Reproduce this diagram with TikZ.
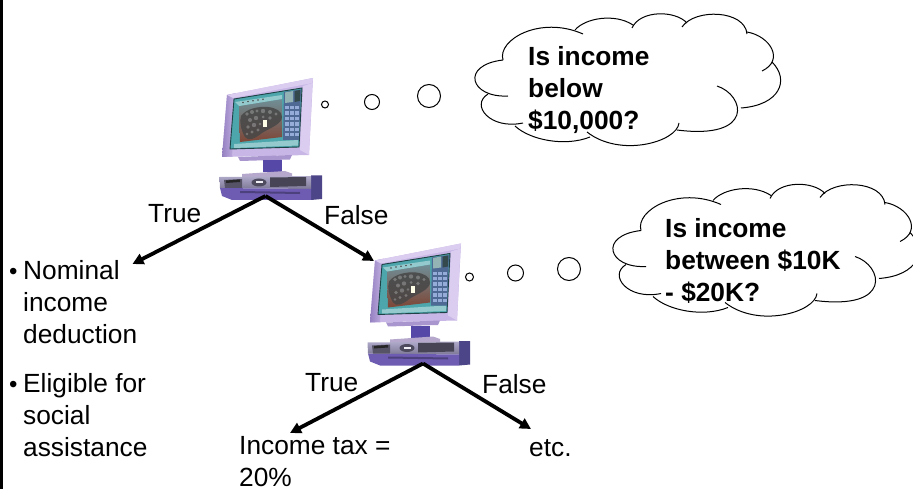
\documentclass[tikz,border=0pt]{standalone}
\usepackage{fontspec}
\setmainfont{Liberation Sans}
\usetikzlibrary{arrows.meta}
\definecolor{bezel}{HTML}{C8B6E6}
\definecolor{bezeld}{HTML}{9480C0}
\definecolor{bezell}{HTML}{DACDF0}
\definecolor{neckc}{HTML}{5548A6}
\definecolor{boxc}{HTML}{9C96BC}
\definecolor{boxd}{HTML}{6E5CB2}
\definecolor{boxs}{HTML}{4C4688}
\definecolor{scrframe}{HTML}{4CA6AC}
\definecolor{phototop}{HTML}{6F8E96}
\definecolor{photobot}{HTML}{7E4636}
\definecolor{panelc}{HTML}{4E6A94}
\definecolor{iconc}{HTML}{9DB4E0}
\tikzset{
  x=1pt,y=-1pt,
  body/.style={font=\fontsize{26.3}{32}\selectfont,inner sep=0pt,anchor=base west,align=left},
  boldbody/.style={body,font=\fontsize{26.3}{32}\selectfont\bfseries},
  bulletmark/.style={body,font=\fontsize{24}{32}\selectfont},
  branch/.style={draw=black,line width=3.8pt,-{Triangle[length=11pt,width=11pt]}},
  cloudline/.style={draw=black,line width=1pt},
  thought/.style={draw=black,line width=1pt,fill=none,circle,inner sep=0pt},
  pics/computer/.style={code={
    \fill[bezel] (227,95) -- (313,78) -- (309,155) -- (222,157) -- cycle;
    \shade[left color=bezeld,right color=bezel] (227,95) -- (236,93) -- (232,156.5) -- (222,157) -- cycle;
    \fill[bezell] (227,95) -- (313,78) -- (312.5,83) -- (233,98) -- cycle;
    \fill[bezell] (303,86) -- (312.5,83) -- (309,155) -- (300,150) -- cycle;
    \fill[bezeld!60!bezel] (238,157) -- (292,155) -- (290,159.5) -- (240,161) -- cycle;
    % screen
    \fill[scrframe] (234,99) -- (302,88) -- (299,147) -- (230,149) -- cycle;
    \draw[black!60!scrframe,line width=.9pt] (234,99) -- (302,88) -- (299,147) -- (230,149) -- cycle;
    \shade[top color=phototop,bottom color=photobot] (239,106) -- (282,99) -- (282,137) -- (240,142) -- cycle;
    \fill[scrframe!60!white] (235,102) -- (282,95) -- (282,99) -- (239,106) -- cycle;
    \foreach \px/\py in {243/102.5,248/101.5,253/100.8,258/100,263/99.3}{
      \fill[black!70] (\px,\py) circle [radius=.9];
    }
    % machine in the photo
    \fill[black!72,opacity=.85] (241,116) .. controls (246,109) and (258,106) .. (268,107) .. controls (276,108) and (282,111) .. (282,117) .. controls (282,124) and (270,128) .. (262,133) .. controls (256,138) and (248,142) .. (245,137) .. controls (241,130) and (239,122) .. (241,116) -- cycle;
    \foreach \px/\py/\pr in {247/114/1.8,252/112/2,257/111/1.6,263/111/2.2,270/112/2,276/114/1.7,250/120/2,256/118/2.2,263/117/1.5,270/118/1.8,248/127/1.8,254/125/2.2,260/124/1.4,252/132/1.7,258/130/1.6,247/134/1.3}{
      \fill[black!28,opacity=.4] (\px,\py) circle [radius=\pr];
    }
    \fill[white!90!yellow] (263,120.5) rectangle (267,127.5);
    \fill[scrframe!60!white] (234,144) -- (298,140) -- (298,145.5) -- (234,148) -- cycle;
    % icon panel
    \fill[panelc] (284,92) -- (301,89.5) -- (299,140) -- (283,140) -- cycle;
    \fill[scrframe!50!gray!70!white] (285,92.5) -- (293,91) -- (293,102) -- (285,103) -- cycle;
    \fill[scrframe!50!gray!50!black] (294.5,91) -- (300,90) -- (300,101) -- (294.5,102) -- cycle;
    \foreach \ra in {0,1,2,3,4,5}{
      \foreach \ca in {0,1,2}{
        \fill[iconc,opacity=.9] ({284.8+\ca*5.2},{106+\ra*5.4}) rectangle ++(3.8,3.4);
      }
    }
    % stand
    \fill[neckc] (263,160) -- (282,160) -- (282,172) -- (263,172) -- cycle;
    \fill[bezel!75!gray] (242,174) -- (285,171) -- (292,173.5) -- (292,177) -- (242,178) -- cycle;
    % base unit
    \fill[boxs] (311,175.5) -- (322,175.5) -- (322,199) -- (311,200) -- cycle;
    \shade[top color=boxc!80!white,bottom color=boxc!80!black] (219.5,177) -- (311,176) -- (311,189) -- (220,188) -- cycle;
    \fill[boxd] (220,188) -- (311,189) -- (311,200) -- (232,200) -- (222,196) -- cycle;
    \fill[boxd!70!black] (240,191) -- (300,192) -- (300,194) -- (240,193) -- cycle;
    \fill[black!45!boxc] (224,180) -- (242,179) -- (242,188) -- (225,188) -- cycle;
    \fill[black!85] (226,180.5) -- (240,179.5) -- (240,182) -- (226,183) -- cycle;
    \fill[black!55!boxc] (270,177.5) -- (306,177) -- (306,186) -- (270,187) -- cycle;
    \fill[black!50!boxc] (259,182.5) ellipse [x radius=7.5,y radius=4];
    \fill[white!85!boxc] (256,181.5) rectangle (263,183.5);
  }},
  pics/thoughtcloud/.style={code={
    \draw[cloudline] (503,60) .. controls (497,40) and (540,15) .. (583,34);
    \draw[cloudline] (575,30) .. controls (585,18) and (615,13) .. (633,25);
    \draw[cloudline] (632,28) .. controls (640,10) and (675,10) .. (687,23);
    \draw[cloudline] (682,27) .. controls (695,8) and (745,10) .. (747,34);
    \draw[cloudline] (747,32) .. controls (770,36) and (785,60) .. (762,71);
    \draw[cloudline] (772,62) .. controls (790,80) and (780,105) .. (741,108);
    \draw[cloudline] (717,86) .. controls (745,95) and (755,140) .. (677,130);
    \draw[cloudline] (679,123) .. controls (677,142) and (620,158) .. (587,132);
    \draw[cloudline] (515,126) .. controls (530,140) and (565,147) .. (590,137);
    \draw[cloudline] (523,123) .. controls (490,130) and (470,105) .. (488,94);
    \draw[cloudline] (508,96) .. controls (470,98) and (460,65) .. (503,60);
  }},
}
\begin{document}
\begin{tikzpicture}
\useasboundingbox (0,0) rectangle (913,489);
\clip (0,0) rectangle (913,489);
\fill[white] (0,0) rectangle (913,489);
\fill[black] (0,0) rectangle (2.6,489);

\pic (compa) at (0,0) {computer};
\pic (compb) at (148,165.5) {computer};

\pic (clouda) at (0,0) {thoughtcloud};
\pic (cloudb) at (138,170.5) {thoughtcloud};

% thought bubbles
\node[thought,minimum size=7pt] (ta1) at (325,104.5) {};
\node[thought,minimum size=15pt] (ta2) at (372,102) {};
\node[thought,minimum size=23pt] (ta3) at (429,96) {};
\node[thought,minimum size=8pt] (tb1) at (469.5,277) {};
\node[thought,minimum size=16pt] (tb2) at (515.5,273) {};
\node[thought,minimum size=23pt] (tb3) at (569,269) {};

% tree connectors
\coordinate (apexa) at (265.5,196);
\coordinate (apexb) at (423,363.5);
\coordinate (enda) at (132.5,264);
\coordinate (endb) at (374,261);
\coordinate (endc) at (290,433);
\coordinate (endd) at (531,429);
\draw[branch] (apexa) -- (enda);
\draw[branch] (apexa) -- (endb);
\draw[branch] (apexb) -- (endc);
\draw[branch] (apexb) -- (endd);

% labels
\node[body] (ltruea) at (148,223) {True};
\node[body] (lfalsea) at (324,225) {False};
\node[body] (ltrueb) at (305,391) {True};
\node[body] (lfalseb) at (482,393) {False};
\node[body] (letc) at (529,456) {etc.};
\node[body] (ltax) at (239,486.5) {Income tax =\\20\%};

\node[bulletmark] (bula) at (9,279) {•};
\node[body] (txta) at (23,343) {Nominal\\income\\deduction};
\node[bulletmark] (bulb) at (9,392) {•};
\node[body] (txtb) at (23,456) {Eligible for\\social\\assistance};

\node[boldbody] (qa) at (528,130) {Is income\\below\\\$10,000?};
\node[boldbody] (qb) at (665,301) {Is income\\between \$10K\\- \$20K?};
\end{tikzpicture}
\end{document}
